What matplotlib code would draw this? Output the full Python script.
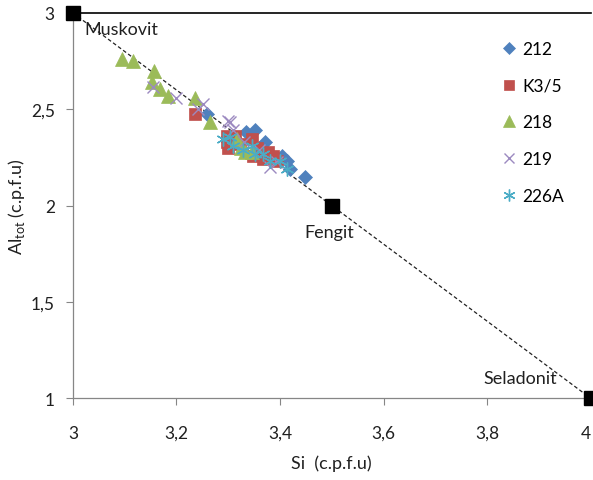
import matplotlib
matplotlib.use("Agg")
import matplotlib.pyplot as plt
from matplotlib.lines import Line2D

plt.rcParams['font.family'] = ['Lato', 'DejaVu Sans']

# End-members
end_names = ["Muskovit", "Fengit", "Seladonit"]
end_si = [3.0, 3.5, 4.0]
end_al = [3.0, 2.0, 1.0]

# Samples
s212_si = [3.258, 3.334, 3.351, 3.371, 3.403, 3.413, 3.419, 3.448, 3.36, 3.39]
s212_al = [2.475, 2.38, 2.39, 2.33, 2.26, 2.23, 2.19, 2.148, 2.30, 2.245]

k35_si = [3.236, 3.297, 3.297, 3.313, 3.322, 3.345, 3.355, 3.376, 3.386, 3.347, 3.367, 3.394, 3.30]
k35_al = [2.475, 2.36, 2.33, 2.36, 2.32, 2.345, 2.30, 2.28, 2.26, 2.26, 2.24, 2.23, 2.30]

s218_si = [3.095, 3.116, 3.156, 3.153, 3.168, 3.183, 3.236, 3.264, 3.317, 3.332, 3.345, 3.325]
s218_al = [2.761, 2.751, 2.699, 2.642, 2.605, 2.569, 2.558, 2.434, 2.345, 2.28, 2.28, 2.30]

s219_si = [3.154, 3.20, 3.241, 3.251, 3.303, 3.299, 3.394, 3.38, 3.33, 3.36, 3.31]
s219_al = [2.615, 2.56, 2.50, 2.527, 2.434, 2.44, 2.226, 2.20, 2.33, 2.29, 2.39]

s226_si = [3.29, 3.309, 3.328, 3.351, 3.367, 3.38, 3.40, 3.413, 3.345, 3.303]
s226_al = [2.345, 2.31, 2.29, 2.27, 2.27, 2.23, 2.23, 2.19, 2.31, 2.355]

fig = plt.figure(figsize=(5.93, 4.81), dpi=100)
ax = fig.add_axes([0.123, 0.170, 0.873, 0.801])
ax.set_xlim(3, 4)
ax.set_ylim(1, 3)

# dashed trend line through end-members
ax.plot([end_si[0], end_si[-1]], [end_al[0], end_al[-1]], color='#222222',
        lw=0.9, ls=(0, (3, 2)), zorder=2)
ax.axhline(3, color='black', lw=1.2, zorder=2, clip_on=False)

series = [
    (s212_si, s212_al, 'D', '#4F81BD', 7, '212'),
    (k35_si, k35_al, 's', '#C0504D', 9, 'K3/5'),
    (s218_si, s218_al, '^', '#9BBB59', 10, '218'),
    (s219_si, s219_al, 'x', '#9C8AC0', 9, '219'),
    (s226_si, s226_al, (6, 2, 0), '#4BACC6', 10, '226A'),
]
handles = []
for xs, ys, m, c, ms, lab in series:
    ax.plot(xs, ys, ls='none', marker=m, color=c, markersize=ms,
            markeredgewidth=1.0 if m in ('x', (6, 2, 0)) else 0.5,
            zorder=3)
    handles.append(Line2D([], [], ls='none', marker=m, color=c,
                          markersize=ms * 0.85,
                          markeredgewidth=1.0 if m in ('x', (6, 2, 0)) else 0.5,
                          label=lab))

ax.plot(end_si, end_al, ls='none', marker='s', color='black', markersize=10,
        zorder=5, clip_on=False)

ax.text(3.022, 2.917, end_names[0], fontsize=13, va='center', ha='left', color='#202020')
ax.text(3.448, 1.862, end_names[1], fontsize=13, va='center', ha='left', color='#202020')
ax.text(3.793, 1.104, end_names[2], fontsize=13, va='center', ha='left', color='#202020')

ax.set_xticks([3, 3.2, 3.4, 3.6, 3.8, 4])
ax.set_xticklabels(['3', '3,2', '3,4', '3,6', '3,8', '4'])
ax.set_yticks([1, 1.5, 2, 2.5, 3])
ax.set_yticklabels(['1', '1,5', '2', '2,5', '3'])
ax.tick_params(labelsize=12.5, colors='#868686', labelcolor='#202020',
               length=5, width=0.8, direction='out')
ax.tick_params(axis='x', pad=14)
ax.tick_params(axis='y', pad=8)
ax.get_xticklabels()[-1].set_horizontalalignment('right')

for side in ('top', 'right'):
    ax.spines[side].set_visible(False)
for side in ('left', 'bottom'):
    ax.spines[side].set_color('#868686')
    ax.spines[side].set_linewidth(0.9)

ax.set_xlabel('Si  (c.p.f.u)', fontsize=13, color='#202020', labelpad=10)
ax.set_ylabel(r'Al$_{\mathregular{tot}}$ (c.p.f.u)', fontsize=13, color='#202020', labelpad=3)

fig.legend(handles=handles, loc='upper left', bbox_to_anchor=(0.835, 0.927),
           frameon=False, fontsize=12.5, labelspacing=1.19, handlelength=0.8,
           handletextpad=0.35, borderaxespad=0)

fig.savefig('out.png', dpi=100)
